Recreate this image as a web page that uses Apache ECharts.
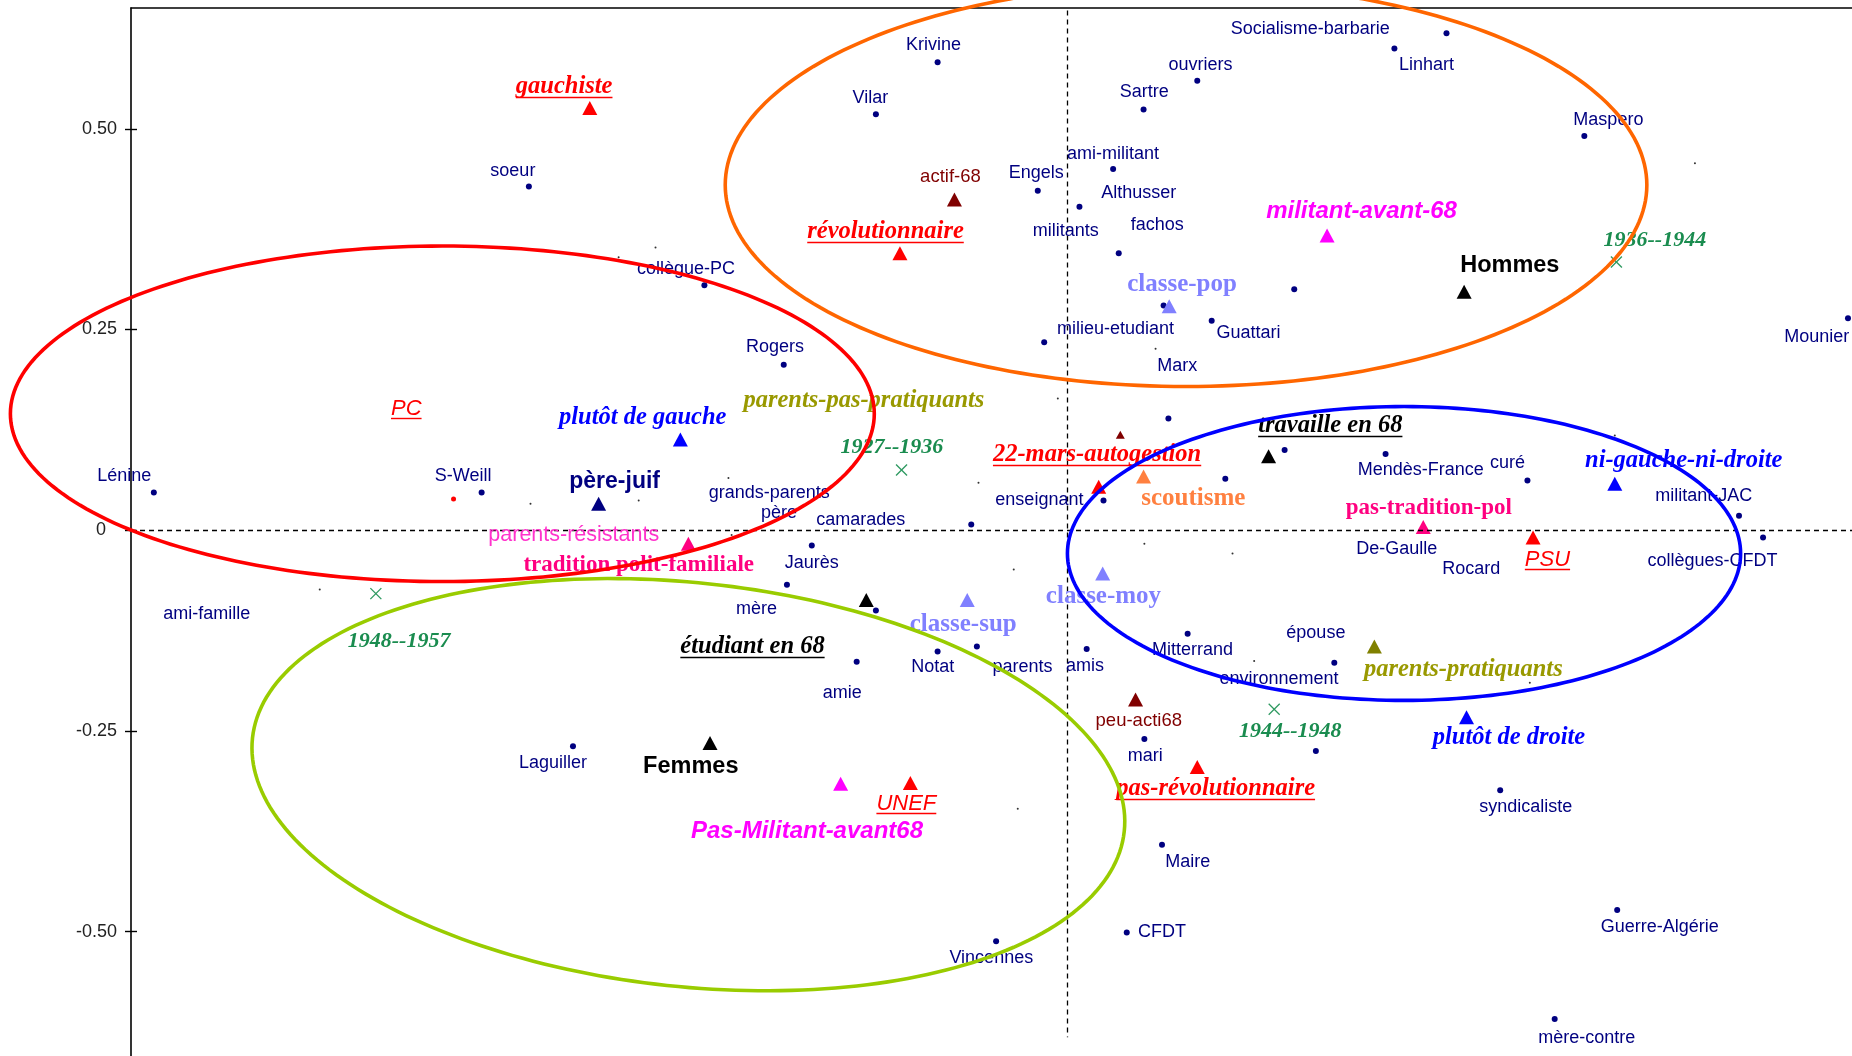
<!DOCTYPE html>
<html><head><meta charset="utf-8">
<script src="https://cdn.jsdelivr.net/npm/echarts@6/dist/echarts.min.js"></script>
<style>html,body{margin:0;padding:0;background:#fff}#c{width:1852px;height:1056px}</style>
</head><body><div id="c"></div>
<script>
// ---------- axis ----------
const yTickValues = [0.5, 0.25, 0, -0.25, -0.5];
const yTickLabels = ['0.50', '0.25', '0', '-0.25', '-0.50'];

// ---------- supplementary words : dots ----------
const dotX = [-0.162,0.473,0.408,0.162,-0.239,0.095,0.645,-0.672,0.057,-0.037,0.015,0.064,0.120,0.283,0.180,-0.029,0.974,-0.453,-0.354,-1.140,-0.731,0.126,0.045,0.197,0.271,0.397,0.574,0.838,0.868,-0.120,-0.319,-0.350,-0.239,-0.263,-0.162,-0.113,0.024,0.150,0.333,0.096,0.310,0.540,0.118,0.074,-0.089,-0.617,0.686,0.608];
const dotY = [0.583,0.619,0.600,0.560,0.518,0.524,0.491,0.428,0.450,0.423,0.403,0.345,0.280,0.300,0.261,0.234,0.264,0.305,0.206,0.047,0.047,0.139,0.037,0.064,0.100,0.095,0.062,0.018,-0.009,0.007,-0.019,-0.068,-0.100,-0.164,-0.151,-0.145,-0.148,-0.129,-0.165,-0.260,-0.275,-0.324,-0.392,-0.501,-0.512,-0.269,-0.473,-0.609];
const tinyX = [-0.514,-0.560,0.783,0.110,-0.670,-0.535,-0.423,-0.419,-0.012,-0.111,0.096,0.206,-0.067,0.233,-0.062,-0.933,0.683,0.577];
const tinyY = [0.352,0.340,0.457,0.226,0.033,0.037,0.065,-0.006,0.164,0.059,-0.017,-0.029,-0.049,-0.163,-0.347,-0.074,0.118,-0.190];
const redDotX = [-0.766];
const redDotY = [0.039];

// ---------- word labels ----------
const wordNames = ['Krivine','Socialisme-barbarie','Linhart','ouvriers','Vilar','Sartre','Maspero','soeur','ami-militant','Engels','Althusser','militants','fachos','milieu-etudiant','Guattari','Marx','Mounier','collègue-PC','Rogers','Lénine','S-Weill','grands-parents','père','camarades','enseignant','Mendès-France','curé','militant-JAC','De-Gaulle','Rocard','collègues-CFDT','Jaurès','ami-famille','mère','amie','Notat','parents','amis','Mitterrand','épouse','environnement','mari','Maire','CFDT','Vincennes','Laguiller','syndicaliste','Guerre-Algérie','mère-contre'];
const wordX = [-0.167,0.303,0.448,0.166,-0.246,0.096,0.675,-0.692,0.057,-0.039,0.089,-0.002,0.112,0.060,0.226,0.137,0.935,-0.476,-0.365,-1.177,-0.754,-0.372,-0.360,-0.258,-0.035,0.441,0.549,0.794,0.411,0.504,0.805,-0.319,-1.074,-0.388,-0.281,-0.168,-0.056,0.022,0.156,0.310,0.264,0.097,0.150,0.118,-0.095,-0.642,0.572,0.739,0.648];
const wordY = [0.604,0.624,0.580,0.580,0.538,0.546,0.511,0.447,0.469,0.445,0.420,0.373,0.380,0.251,0.246,0.204,0.241,0.325,0.228,0.068,0.068,0.046,0.021,0.013,0.038,0.075,0.084,0.043,-0.023,-0.049,-0.039,-0.041,-0.104,-0.098,-0.203,-0.171,-0.170,-0.169,-0.149,-0.128,-0.185,-0.281,-0.413,-0.501,-0.533,-0.290,-0.345,-0.494,-0.632];

// ---------- active categories (triangles) ----------
const catNames = ['gauchiste','révolutionnaire','22-mars-autogestion','pas-révolutionnaire','PC','PSU','UNEF','actif-68','peu-acti68','militant-avant-68','Pas-Militant-avant68','Hommes','Femmes','travaille en 68','étudiant en 68','plutôt de gauche','ni-gauche-ni-droite','plutôt de droite','père-juif','classe-pop','classe-moy','classe-sup','scoutisme','tradition polit-familiale','pas-tradition-pol','parents-résistants','parents-pas-pratiquants','parents-pratiquants',''];
const catX = [-0.596,-0.209,0.039,0.162,null,0.581,-0.196,-0.141,0.085,0.324,-0.283,0.495,-0.446,0.251,-0.251,-0.483,0.683,0.498,-0.585,0.127,0.044,-0.125,0.095,-0.473,0.444,null,null,0.383,0.066];
const catY = [0.526,0.345,0.054,-0.295,null,-0.009,-0.315,0.412,-0.211,0.367,-0.316,0.297,-0.265,0.092,-0.087,0.113,0.058,-0.233,0.033,0.279,-0.054,-0.087,0.067,-0.017,0.004,null,null,-0.145,0.119];
const catLabelX = [-0.628,-0.227,0.037,0.185,-0.825,0.599,-0.201,-0.146,0.089,0.367,-0.325,0.552,-0.470,0.328,-0.393,-0.530,0.769,0.551,-0.565,0.143,0.045,-0.130,0.157,-0.535,0.451,-0.616,-0.254,0.494,null];
const catLabelY = [0.552,0.372,0.094,-0.322,0.151,-0.037,-0.341,0.440,-0.238,0.397,-0.375,0.330,-0.294,0.130,-0.145,0.140,0.087,-0.259,0.060,0.306,-0.083,-0.117,0.039,-0.043,0.027,-0.006,0.161,-0.174,null];
const catGroup = ['redBI','redBI','redBI','redBI','redI','redI','redI','darkred','darkred','magenta','magenta','black','black','blackBI','blackBI','blue','blue','blue','navyB','lav','lav','lav','orange','pink','pink','pinkLight','olive','olive','darkredSmall'];

// ---------- cohorts (crosses) ----------
const yearNames = ['1927--1936','1936--1944','1944--1948','1948--1957'];
const yearX = [-0.207,0.685,0.258,-0.863];
const yearY = [0.075,0.334,-0.223,-0.079];
const yearLabelX = [-0.219,0.733,0.278,-0.834];
const yearLabelY = [0.103,0.361,-0.250,-0.139];

// ---------- ellipses ----------
const ellipseNames = ['orange','red','blue','green'];
const ellipseCX = [0.148,-0.780,0.420,-0.473];
const ellipseCY = [0.430,0.145,-0.029,-0.317];
const ellipseRX = [0.575,0.539,0.420,0.547];
const ellipseRY = [0.251,0.209,0.183,0.2515];
const ellipseAngleDeg = [0,0,0,-6.1];

// ---------- styles ----------
const SERIF = 'Liberation Serif', SANS = 'Liberation Sans';
const groupStyle = {
  redBI:    {color:'#ff0000', fam:SERIF, size:24.5, bold:true, italic:true, ul:true, tri:'#ff0000'},
  redI:     {color:'#ff0000', fam:SANS, size:22, bold:false, italic:true, ul:true, tri:'#ff0000'},
  darkred:  {color:'#800000', fam:SANS, size:18.5, bold:false, italic:false, tri:'#800000'},
  darkredSmall: {color:'#800000', tri:'#800000', small:true},
  magenta:  {color:'#ff00ff', fam:SANS, size:24, bold:true, italic:true, tri:'#ff00ff'},
  black:    {color:'#000000', fam:SANS, size:23.5, bold:true, italic:false, tri:'#000000'},
  blackBI:  {color:'#000000', fam:SERIF, size:24.5, bold:true, italic:true, ul:true, tri:'#000000'},
  blue:     {color:'#0000ff', fam:SERIF, size:24.5, bold:true, italic:true, tri:'#0000ff'},
  navyB:    {color:'#000080', fam:SANS, size:23, bold:true, italic:false, tri:'#000080'},
  lav:      {color:'#8080ff', fam:SERIF, size:25, bold:true, italic:false, tri:'#8080ff'},
  orange:   {color:'#ff8040', fam:SERIF, size:25, bold:true, italic:false, tri:'#ff8040'},
  pink:     {color:'#ff0080', fam:SERIF, size:23, bold:true, italic:false, tri:'#ff0080'},
  pinkLight:{color:'#ff33cc', fam:SANS, size:21.5, bold:false, italic:false, tri:'#ff33cc'},
  olive:    {color:'#999900', fam:SERIF, size:24.5, bold:true, italic:true, tri:'#808000'},
  word:     {color:'#000080', fam:SANS, size:18, bold:false, italic:false},
  year:     {color:'#1a8c4f', fam:SERIF, size:22, bold:true, italic:true}
};
const ellipseColor = {orange:'#ff6600', red:'#ff0000', blue:'#0000ff', green:'#99cc00'};

// ---------- build ----------
const labels = [];
wordNames.forEach((n,i)=>labels.push({text:n, x:wordX[i], y:wordY[i], st:'word'}));
catNames.forEach((n,i)=>{ if(n && catLabelX[i]!==null) labels.push({text:n, x:catLabelX[i], y:catLabelY[i], st:catGroup[i]}); });
yearNames.forEach((n,i)=>labels.push({text:n, x:yearLabelX[i], y:yearLabelY[i], st:'year'}));

const measureCtx = document.createElement('canvas').getContext('2d');
function fontOf(s){ return (s.italic?'italic ':'')+(s.bold?'bold ':'')+s.size+'px "'+s.fam+'"'; }

const triData = [];
catNames.forEach((n,i)=>{
  if(catX[i]===null) return;
  const g = groupStyle[catGroup[i]];
  triData.push({value:[catX[i],catY[i]], symbolSize: g.small?[9,8]:[15,14], itemStyle:{color:g.tri, opacity:1}});
});

const X_MIN=-1.1685, X_MAX=0.979, Y_MIN=-0.655, Y_MAX=0.6505;

const option = {
  animation:false,
  backgroundColor:'#ffffff',
  grid:{left:131, right:0, top:8, bottom:0, containLabel:false},
  xAxis:{type:'value', min:X_MIN, max:X_MAX, position:'top',
    axisLine:{show:true, onZero:false, lineStyle:{color:'#000', width:1.6}},
    axisTick:{show:false}, axisLabel:{show:false}, splitLine:{show:false}},
  yAxis:[
    {type:'value', min:Y_MIN, max:Y_MAX, position:'left',
      axisLine:{show:true, onZero:false, lineStyle:{color:'#000', width:1.6}},
      axisTick:{show:true, length:6, lineStyle:{color:'#000', width:1.4}, customValues:yTickValues},
      axisLabel:{show:true, margin:14, color:'#222', fontSize:18, fontFamily:SANS, customValues:yTickValues,
        formatter:v=>{ const i=yTickValues.findIndex(t=>Math.abs(t-v)<1e-9); const s=i>=0?yTickLabels[i]:''; return v===0?'{z|'+s+'}':s; },
        rich:{z:{fontSize:18, fontFamily:SANS, color:'#222', padding:[0,11,0,0]}}},
      splitLine:{show:false}},
    {type:'value', min:Y_MIN, max:Y_MAX, position:'left',
      axisLine:{show:false, onZero:false}, axisLabel:{show:false}, splitLine:{show:false},
      axisTick:{show:true, inside:true, length:6, lineStyle:{color:'#000', width:1.4}, customValues:yTickValues}}
  ],
  series:[
    {type:'scatter', name:'tiny', z:2, symbol:'circle', symbolSize:2, silent:true,
      itemStyle:{color:'#333', opacity:1}, data:tinyX.map((x,i)=>[x,tinyY[i]]),
      markLine:{silent:true, symbol:['none','none'], label:{show:false},
        lineStyle:{color:'#000', width:1.3, type:[5,4]},
        data:[[{coord:[0,Y_MAX-0.003]},{coord:[0,-0.6315]}],[{coord:[X_MIN,0]},{coord:[X_MAX,0]}]]}},
    {type:'scatter', name:'dots', z:3, symbol:'circle', symbolSize:6, silent:true,
      itemStyle:{color:'#000080', opacity:1}, data:dotX.map((x,i)=>[x,dotY[i]])},
    {type:'scatter', name:'reddot', z:3, symbol:'circle', symbolSize:5, silent:true,
      itemStyle:{color:'#ff0000', opacity:1}, data:redDotX.map((x,i)=>[x,redDotY[i]])},
    {type:'scatter', name:'tri', z:4, symbol:'triangle', silent:true, data:triData},
    {type:'custom', name:'crosses', z:4, silent:true, clip:false,
      data:yearX.map((x,i)=>[x,yearY[i]]),
      renderItem:(params,api)=>{
        const p=api.coord([api.value(0),api.value(1)]); const r=5.5;
        const st={stroke:'#2e9960', lineWidth:1.3};
        return {type:'group', children:[
          {type:'line', shape:{x1:p[0]-r,y1:p[1]-r,x2:p[0]+r,y2:p[1]+r}, style:st},
          {type:'line', shape:{x1:p[0]-r,y1:p[1]+r,x2:p[0]+r,y2:p[1]-r}, style:st}]};
      }},
    {type:'custom', name:'labels', z:5, silent:true, clip:false,
      data:labels.map(l=>[l.x,l.y]),
      renderItem:(params,api)=>{
        const l=labels[params.dataIndex]; const s=groupStyle[l.st];
        const p=api.coord([api.value(0),api.value(1)]);
        const font=fontOf(s);
        const ch=[{type:'text', x:p[0], y:p[1], style:{text:l.text, font:font, fill:s.color, align:'center', verticalAlign:'middle'}}];
        if(s.ul){ measureCtx.font=font; const w=measureCtx.measureText(l.text).width; const uy=Math.round(p[1]+s.size*0.42)+0.5;
          ch.push({type:'line', shape:{x1:p[0]-w/2,y1:uy,x2:p[0]+w/2,y2:uy}, style:{stroke:s.color, lineWidth:1.4}}); }
        return {type:'group', children:ch};
      }},
    {type:'custom', name:'ellipses', z:6, silent:true, clip:false,
      data:ellipseCX.map((x,i)=>[x,ellipseCY[i]]),
      renderItem:(params,api)=>{
        const i=params.dataIndex; const a=ellipseAngleDeg[i]*Math.PI/180;
        const cx=ellipseCX[i], cy=ellipseCY[i], rx=ellipseRX[i], ry=ellipseRY[i];
        const pts=[];
        for(let k=0;k<=240;k++){ const t=k/240*2*Math.PI; const dx=rx*Math.cos(t), dy=ry*Math.sin(t);
          pts.push(api.coord([cx+dx*Math.cos(a)-dy*Math.sin(a), cy+dx*Math.sin(a)+dy*Math.cos(a)])); }
        return {type:'polyline', shape:{points:pts}, style:{stroke:ellipseColor[ellipseNames[i]], lineWidth:3.6, fill:null}};
      }}
  ]
};
const chart = echarts.init(document.getElementById('c'), null, {renderer:'canvas'});
chart.setOption(option);
</script></body></html>
